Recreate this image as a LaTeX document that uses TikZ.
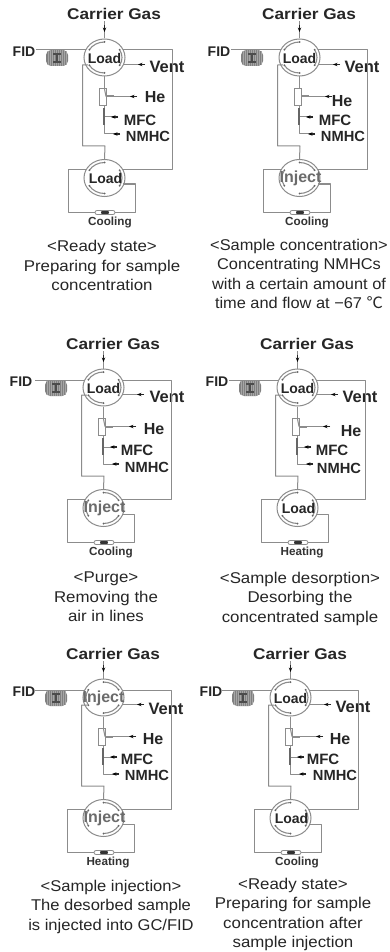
\documentclass[tikz,border=0pt]{standalone}
\usepackage{graphicx}
\usepackage{fontspec}
\setmainfont{Liberation Sans}
\newfontfamily\cjkf{Noto Sans CJK SC}
\usetikzlibrary{shapes.geometric,arrows.meta,calc}
\definecolor{pipe}{HTML}{8C8C8C}
\tikzset{
  pipe/.style={draw=pipe,line width=1pt,line join=round},
  tipped/.style={draw=black!85,line width=1.1pt,-{Stealth[black,length=4.5pt,width=3.4pt]}},
  valve/.style={ellipse,draw=pipe,line width=1pt,inner sep=0pt,minimum width=41pt,minimum height=37pt},
  inarc/.style={draw=pipe,line width=1.1pt},
  port/.style={circle,fill=black!60,inner sep=0pt,minimum size=2pt},
  lbl/.style={inner sep=0pt,font=\fontsize{15.5}{18}\selectfont\bfseries,text=black!85},
  lblsm/.style={inner sep=0pt,font=\fontsize{11.7}{14}\selectfont\bfseries,text=black!80},
  capt/.style={inner sep=0pt,anchor=north,text=black!85,font=\fontsize{15.6}{19.4}\selectfont},
  stateLoad/.style={inner sep=0pt,font=\fontsize{14}{16}\selectfont\bfseries,text=black!85},
  stateInject/.style={inner sep=0pt,font=\fontsize{16}{18}\selectfont\bfseries,text=black!58},
  stkey/.code={\edef\stq{state#1}\expandafter\tikzset\expandafter{\stq}},
  coil/.style={rectangle,rounded corners=5pt,fill=black!50,inner sep=0pt,minimum width=22pt,minimum height=16pt,
    path picture={
      \foreach \q in {-9,-7,...,9}{\draw[white!65!black,line width=0.5pt] ([xshift=\q pt]path picture bounding box.north) -- ([xshift=\q pt]path picture bounding box.south);}
      \draw[black!70,line width=1.8pt] ([xshift=-4pt,yshift=4pt]path picture bounding box.center) -- ([xshift=4pt,yshift=4pt]path picture bounding box.center)
        ([xshift=-4pt,yshift=-4pt]path picture bounding box.center) -- ([xshift=4pt,yshift=-4pt]path picture bounding box.center)
        ([yshift=4pt]path picture bounding box.center) -- ([yshift=-4pt]path picture bounding box.center);
    }},
  tee/.style={rectangle,draw=pipe,fill=white,line width=0.8pt,inner sep=0pt,minimum width=7pt,minimum height=17pt},
  mfcbar/.style={rectangle,fill=black!60,inner sep=0pt,minimum width=2.6pt,minimum height=17pt},
  oven/.style={rectangle,rounded corners=2pt,draw=pipe,fill=white,line width=0.8pt,inner sep=0pt,minimum width=20pt,minimum height=4pt,
    path picture={\fill[black!80] ([xshift=-4pt,yshift=-2pt]path picture bounding box.center) rectangle ([xshift=4pt,yshift=2pt]path picture bounding box.center);}},
}
\pgfqkeys{/pnl}{
  fidx/.store in=\pfidx, hex/.store in=\phex, hey/.store in=\phey,
  mfx/.store in=\pmfx, mfy/.store in=\pmfy, nmx/.store in=\pnmx, nmy/.store in=\pnmy,
  vx/.store in=\pvx, vy/.store in=\pvy, capx/.store in=\pcapx, capy/.store in=\pcapy, caps/.store in=\pcaps,
  ovx/.store in=\povx, top/.store in=\ptop, bot/.store in=\pbot, oven/.store in=\poven, stem/.store in=\pstem,
  defaults/.style={fidx=24,hex=155,hey=97,mfx=140,mfy=120,nmx=148,nmy=136,vx=167,vy=67,capx=102,capy=238,caps=1.08,ovx=110,
    top=Load,bot=Load,oven=Cooling,stem=0}
}
\def\tmpl{Load}
% inner arcs: #1 centre name, #2 state
\newcommand\valvearcs[2]{%
  \edef\tmpst{#2}%
  \ifx\tmpst\tmpl
    \foreach \a in {90,-30,210}{
      \draw[inarc] (#1) ++(\a:17.5pt and 15.5pt) arc[start angle=\a,delta angle=60,x radius=17.5pt,y radius=15.5pt];}
  \else
    \foreach \a in {30,-90,150}{
      \draw[inarc] (#1) ++(\a:17.5pt and 15.5pt) arc[start angle=\a,delta angle=60,x radius=17.5pt,y radius=15.5pt];}
  \fi
  \foreach \a in {90,30,-30,-90,-150,150}{
    \node[port] at ($(#1)+(\a:17.5pt and 15.5pt)$) {};}
}
% #1 id, #2 x offset, #3 y offset, #4 keys, #5 caption
\newcommand\panel[5]{%
\begin{scope}[shift={(#2,-#3)}]
  \pgfqkeys{/pnl}{defaults,#4}
  \node[valve] (#1vt) at (104.5,-57.5) {};
  \node[valve] (#1vb) at (104.5,-178) {};
  \node[lbl] (#1cg) at (114,-14) {\scalebox{1.11}[1]{Carrier Gas}};
  \node[lbl,font=\fontsize{14}{16}\selectfont\bfseries] (#1fid) at (\pfidx,-52) {FID};
  \node[lbl,font=\fontsize{16.5}{18}\selectfont\bfseries] (#1vent) at (\pvx,-\pvy) {Vent};
  \node[lbl,font=\fontsize{16}{18}\selectfont\bfseries] (#1he) at (\phex,-\phey) {He};
  \node[lbl,font=\fontsize{15}{18}\selectfont\bfseries] (#1mfc) at (\pmfx,-\pmfy) {MFC};
  \node[lbl,font=\fontsize{14.7}{18}\selectfont\bfseries] (#1nm) at (\pnmx,-\pnmy) {NMHC};
  \node[coil] (#1coil) at (57,-58) {};
  \node[tee] (#1tee) at (102.5,-96.5) {};
  \node[mfcbar] (#1bar) at (104,-116.5) {};
  \node[oven] (#1ov) at (105,-212.5) {};
  \node[lblsm] (#1ovt) at (\povx,-222.5) {\poven};
  % named joints
  \coordinate (#1cga) at (104.5,-32);
  \coordinate (#1cgb) at (104.5,-25);
  \coordinate (#1cgs) at (104.5,-21);
  \coordinate (#1f1) at (36,-50);
  \coordinate (#1f2) at (86,-50);
  \coordinate (#1r1) at (123,-50);
  \coordinate (#1r2) at (172,-50);
  \coordinate (#1r3) at (172,-169.5);
  \coordinate (#1r4) at (123,-169.5);
  \coordinate (#1ve1) at (124,-64.5);
  \coordinate (#1ve2) at (145,-64.5);
  \coordinate (#1ve3) at (138,-64.5);
  \coordinate (#1he1) at (106,-96.5);
  \coordinate (#1he3) at (137,-96.5);
  \coordinate (#1he2) at (130,-96.5);
  \coordinate (#1he4) at (114,-96.5);
  \coordinate (#1mf1) at (105.3,-117);
  \coordinate (#1mf2) at (118,-117);
  \coordinate (#1mf3) at (111,-117);
  \coordinate (#1nm1) at (104,-134);
  \coordinate (#1nm2) at (120,-134);
  \coordinate (#1nm3) at (113,-134);
  \coordinate (#1l1) at (88,-65);
  \coordinate (#1l2) at (82.5,-65);
  \coordinate (#1l3) at (82.5,-146);
  \coordinate (#1l4) at (105,-146);
  \coordinate (#1c1) at (86,-169.5);
  \coordinate (#1c2) at (68,-169.5);
  \coordinate (#1c3) at (68,-212.5);
  \coordinate (#1c4) at (135,-212.5);
  \coordinate (#1c5) at (135,-184);
  \coordinate (#1c6) at (123,-184);
  % connectors
  \draw[pipe] (#1f1) -- (#1f2);
  \draw[pipe] (#1r1) -- (#1r2) -- (#1r3) -- (#1r4);
  \draw[pipe] (#1vt.south) -- (#1tee.north -| #1vt.south);
  \draw[pipe] (#1l1) -- (#1l2) -- (#1l3) -- (#1l4) -- (#1vb.north);
  \draw[pipe] (#1c1) -- (#1c2) -- (#1c3) -- (#1ov.west);
  \draw[pipe] (#1ov.east) -- (#1c4) -- (#1c5) -- (#1c6);
  \draw[pipe] (#1cgs) -- (#1vt.north);
  \draw[tipped] (#1cgb) -- (#1cga);
  \draw[pipe] (#1ve1) -- (#1ve2);
  \draw[tipped] (#1ve2) -- (#1ve3);
  \draw[pipe] (#1he3) -- (#1he1);
  \draw[tipped] (#1he3) -- (#1he2);
  \draw[pipe,line width=2pt,draw=black!45] (#1he1) -- (#1he4);
  \ifnum\pstem=0
    \draw[pipe] (104.5,-89) -- (#1he1);
  \fi
  \draw[pipe] (#1tee.south -| #1bar.north) -- (#1bar.north);
  \draw[pipe] (#1mf2) -- (#1mf1);
  \draw[tipped] (#1mf2) -- (#1mf3);
  \draw[pipe] (#1bar.south) -- (#1nm1) -- (#1nm2);
  \draw[tipped] (#1nm2) -- (#1nm3);
  \valvearcs{#1vt}{\ptop}
  \valvearcs{#1vb}{\pbot}
  \node[stkey=\ptop] (#1st) at (104.5,-58) {\ptop};
  \node[stkey=\pbot] (#1sb) at (105.5,-178.5) {\pbot};
  \node[capt] (#1cap) at (\pcapx,-\pcapy) {\scalebox{\pcaps}[1]{\begin{tabular}{@{}c@{}}#5\end{tabular}}};
\end{scope}}
\begin{document}
\begin{tikzpicture}[x=1pt,y=1pt]
\useasboundingbox[fill=white] (0,0) rectangle (390,-952);
\panel{a}{0}{0}{capy=238}{<Ready state>\\Preparing for sample\\concentration}
\panel{b}{195}{0}{bot=Inject,hex=147,hey=101,capx=104,capy=236.5,caps=1.05,ovx=112,stem=1}{<Sample concentration>\\Concentrating NMHCs\\with a certain amount of\\time and flow at −67 {\cjkf ℃}}
\panel{c}{-1}{330}{bot=Inject,fidx=22,hey=99,mfx=138,nmy=137,vx=168,capx=107,capy=239,ovx=112}{<Purge>\\Removing the\\air in lines}
\panel{d}{193}{330}{oven=Heating,hex=158,hey=101,mfx=139,nmx=146,nmy=138,capx=107,capy=239.5,ovx=109}{<Sample desorption>\\Desorbing the\\concentrated sample}
\panel{e}{-1}{640}{top=Inject,bot=Inject,oven=Heating,fidx=25,hex=154,hey=99,mfx=138,mfy=119,nmy=135,vy=69,capx=112,capy=237.5,caps=1.06,ovx=109}{<Sample injection>\\The desorbed sample\\is injected into GC/FID}
\panel{f}{186}{640}{fidx=25,hex=154,hey=99,mfx=137,mfy=119,nmx=149,nmy=135,vy=67,capx=107,capy=235.5,ovx=111}{<Ready state>\\Preparing for sample\\concentration after\\sample injection}
\end{tikzpicture}
\end{document}
